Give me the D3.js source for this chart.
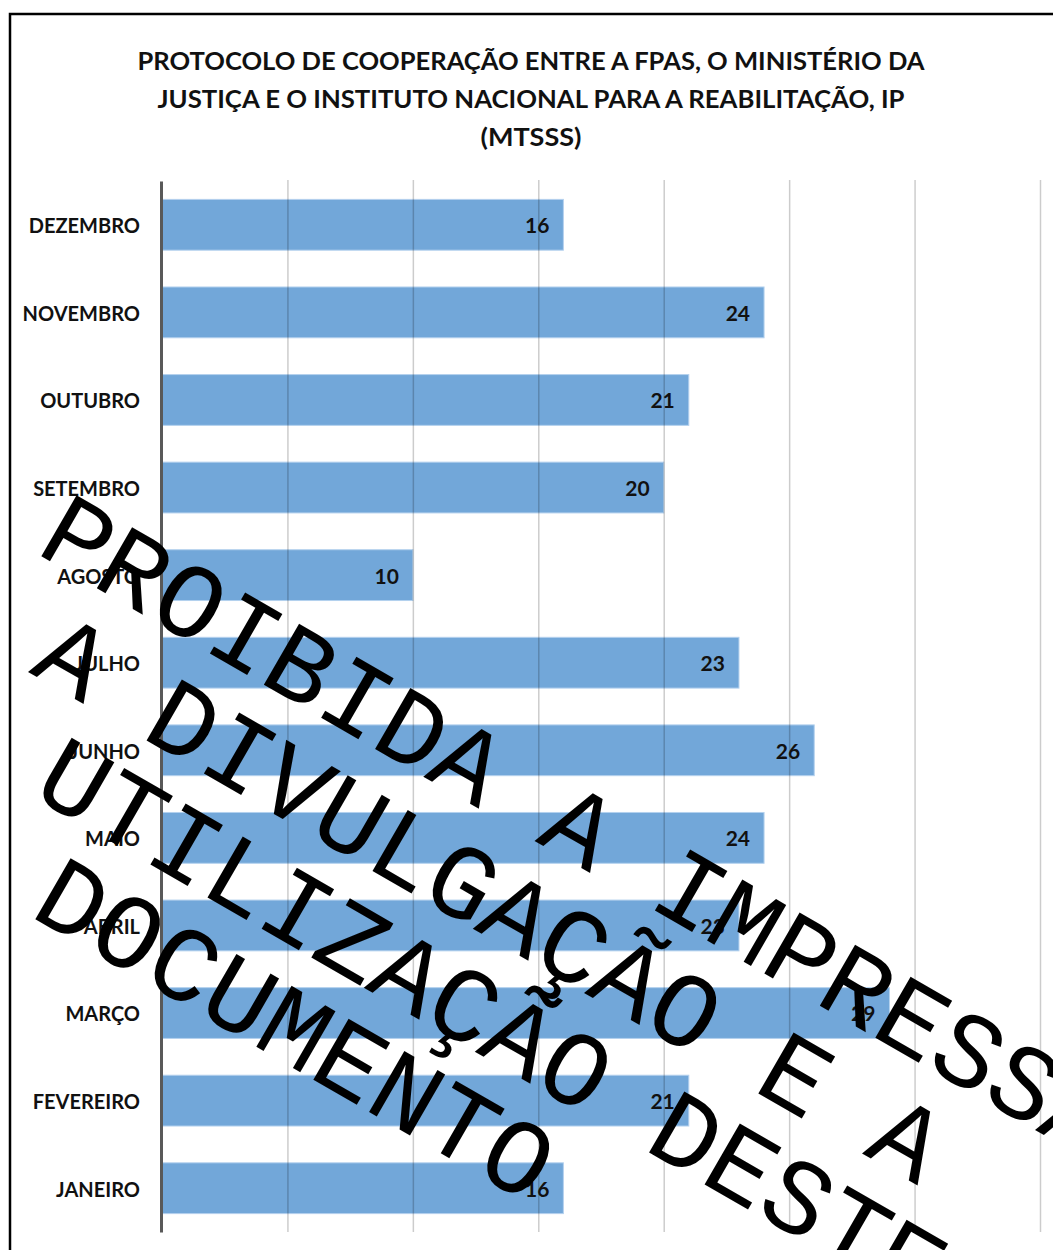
<!DOCTYPE html>
<html>
<head>
<meta charset="utf-8">
<script src="https://cdn.jsdelivr.net/npm/d3@7"></script>
<style>
  html, body { margin: 0; padding: 0; background: #fff; }
  svg { display: block; }
</style>
</head>
<body>
<div id="chart"></div>
<script>
// ---- data ----
const categories = ["DEZEMBRO","NOVEMBRO","OUTUBRO","SETEMBRO","AGOSTO","JULHO","JUNHO","MAIO","ABRIL","MARÇO","FEVEREIRO","JANEIRO"];
const values = [16, 24, 21, 20, 10, 23, 26, 24, 23, 29, 21, 16];
const xTicks = [0, 5, 10, 15, 20, 25, 30, 35];
const titleLines = [
  "PROTOCOLO DE COOPERAÇÃO ENTRE A FPAS, O MINISTÉRIO DA",
  "JUSTIÇA E O INSTITUTO NACIONAL PARA A REABILITAÇÃO, IP",
  "(MTSSS)"
];
const watermarkLines = [
  "PROIBIDA A IMPRESSÃO",
  "A DIVULGAÇÃO E A",
  "UTILIZAÇÃO DESTE",
  "DOCUMENTO"
];

// ---- layout ----
const W = 1053, H = 1250;
const svg = d3.select("#chart").append("svg").attr("width", W).attr("height", H);

const x = d3.scaleLinear().domain([0, 35]).range([162, 1040]);
const y = d3.scaleBand().domain(categories).range([181, 1232]).paddingInner(0.42).paddingOuter(0.21);

// frame
svg.append("path")
  .attr("d", `M10,${H} L10,14 L${W},14`)
  .attr("fill", "none").attr("stroke", "#000").attr("stroke-width", 2.5);

// title
const title = svg.append("text")
  .attr("font-family", "Lato, 'Open Sans', sans-serif")
  .attr("font-weight", 700).attr("font-size", 25).attr("fill", "#111")
  .attr("text-anchor", "middle");
const titleWidths = [787, 747, 101];
titleLines.forEach((t, i) => {
  title.append("tspan").attr("x", 531).attr("y", 70 + i * 38)
    .attr("textLength", titleWidths[i]).attr("lengthAdjust", "spacingAndGlyphs").text(t);
});

// bars
svg.append("g").selectAll("rect").data(categories).join("rect")
  .attr("x", x(0))
  .attr("y", d => y(d))
  .attr("width", (d, i) => x(values[i]) - x(0))
  .attr("height", y.bandwidth())
  .attr("fill", "#72a7d9")
  .attr("stroke", "#b4d1ee").attr("stroke-width", 1);

// gridlines
const xAxis = d3.axisBottom(x).tickValues(xTicks).tickSize(-(1232 - 180)).tickFormat("");
const gx = svg.append("g").attr("transform", "translate(0,1232)").call(xAxis);
gx.select(".domain").remove();
gx.selectAll(".tick line").attr("stroke", "#000").attr("stroke-opacity", 0.2).attr("stroke-width", 1.5);
gx.selectAll(".tick").filter(d => d === 0).remove();

// y axis
const yAxis = d3.axisLeft(y).tickSize(0).tickPadding(21);
const gy = svg.append("g").attr("transform", `translate(${x(0) - 1},0)`).call(yAxis);
gy.select(".domain").attr("stroke", "#595959").attr("stroke-width", 3);
gy.selectAll(".tick text")
  .attr("dy", "0.42em")
  .attr("font-family", "Lato, 'Open Sans', sans-serif")
  .attr("font-weight", 700).attr("font-size", 20).attr("fill", "#111");

// value labels
svg.append("g").selectAll("text").data(categories).join("text")
  .attr("x", (d, i) => x(values[i]) - 14)
  .attr("y", d => y(d) + y.bandwidth() / 2)
  .attr("dy", "0.4em")
  .attr("text-anchor", "end")
  .attr("font-family", "Lato, 'Open Sans', sans-serif")
  .attr("font-weight", 700).attr("font-size", 21).attr("fill", "#111")
  .text((d, i) => values[i]);

// watermark
const wmOrigins = [[34, 552], [28, 672], [30, 795], [28, 915]];
const wm = svg.append("g");
watermarkLines.forEach((t, i) => {
  wm.append("text")
    .attr("transform", `translate(${wmOrigins[i][0]},${wmOrigins[i][1]}) rotate(30)`)
    .attr("font-family", "'Courier New', 'Liberation Mono', monospace")
    .attr("font-size", 107).attr("fill", "#000")
    .text(t);
});
</script>
</body>
</html>
